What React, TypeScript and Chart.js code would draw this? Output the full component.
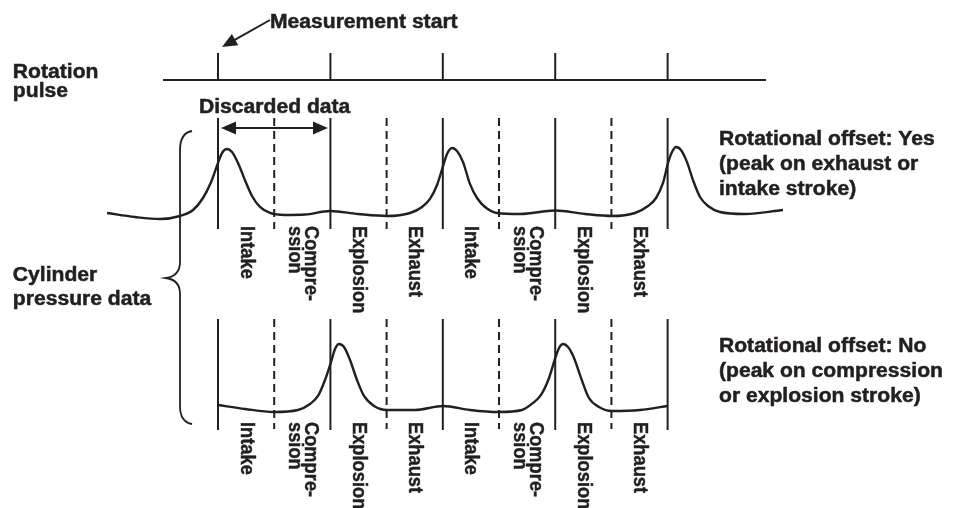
import React, { useEffect, useRef } from "react";
import { Chart, registerables } from "chart.js";

Chart.register(...registerables);

// ---- data ----
// x: crank position in strokes (0 = measurement start pulse), pressure: relative (peak = 1)
const upperAngle = [
  -1.975, -1.477, -1.032, -0.676, -0.445, -0.267, -0.125, 0, 0.071, 0.16, 0.249, 0.356, 0.48, 0.605, 0.747,
  0.925, 1.192, 1.548, 1.993, 2.491, 3.007, 3.416, 3.63, 3.772, 3.897, 4.004, 4.075, 4.164, 4.253, 4.36,
  4.484, 4.609, 4.751, 4.964, 5.374, 5.996, 6.53, 7.011, 7.42, 7.651, 7.794, 7.918, 8.007, 8.078, 8.149,
  8.238, 8.345, 8.452, 8.577, 8.719, 8.932, 9.377, 10.053,
];
const upperPressure = [
  0.03, -0.03, -0.06, -0.015, 0.075, 0.254, 0.49, 0.776, 0.925, 0.985, 0.94, 0.776, 0.52, 0.284, 0.12,
  0.03, 0, 0.007, 0.06, 0.015, -0.015, 0.03, 0.12, 0.24, 0.448, 0.73, 0.91, 1.0, 0.955, 0.79,
  0.46, 0.254, 0.12, 0.03, 0.015, 0.067, 0.015, -0.015, 0.03, 0.134, 0.254, 0.478, 0.776, 0.94, 1.015,
  0.97, 0.79, 0.52, 0.269, 0.134, 0.045, 0.015, 0.075,
];
const lowerAngle = [
  0, 0.48, 0.996, 1.423, 1.637, 1.779, 1.904, 2.011, 2.082, 2.153, 2.242, 2.349, 2.473, 2.598, 2.776,
  3.007, 3.505, 4.004, 4.484, 5.0, 5.409, 5.605, 5.747, 5.89, 5.996, 6.068, 6.139, 6.228, 6.335, 6.459,
  6.601, 6.779, 7.011, 7.509, 8.007,
];
const lowerPressure = [
  0.09, 0.03, -0.015, 0.015, 0.104, 0.224, 0.463, 0.731, 0.925, 1.0, 0.955, 0.761, 0.463, 0.224, 0.075,
  0.015, 0.015, 0.075, 0.015, -0.015, 0.015, 0.12, 0.239, 0.493, 0.776, 0.94, 1.0, 0.955, 0.79, 0.493,
  0.194, 0.06, 0, 0.015, 0.075,
];
const strokeLabels = ["Intake", "Compre-\nssion", "Explosion", "Exhaust", "Intake", "Compre-\nssion", "Explosion", "Exhaust"];
const pulseTicks = [0, 2, 4, 6, 8];
const strokeBoundaries = [1, 3, 5, 7];
const pulseSpan = [-0.979, 9.751];
const upperNote = ["Rotational offset: Yes", "(peak on exhaust or", "intake stroke)"];
const lowerNote = ["Rotational offset: No", "(peak on compression", "or explosion stroke)"];

const INK = "#231f20";
const FONT = "'Liberation Sans', Arial, sans-serif";

const diagramPlugin = {
  id: "diagram",
  afterDatasetsDraw(chart: any) {
    const ctx: CanvasRenderingContext2D = chart.ctx;
    const xs = chart.scales.x;
    const ys = chart.scales.y;
    const X = (v: number) => xs.getPixelForValue(v);
    const Y = (v: number) => ys.getPixelForValue(v);
    ctx.save();
    ctx.strokeStyle = INK;
    ctx.fillStyle = INK;
    ctx.lineCap = "butt";

    const vline = (s: number, y0: number, y1: number, dashed: boolean, w = 2) => {
      ctx.beginPath();
      ctx.lineWidth = w;
      ctx.setLineDash(dashed ? [8, 5] : []);
      ctx.moveTo(X(s), Y(y0));
      ctx.lineTo(X(s), Y(y1));
      ctx.stroke();
      ctx.setLineDash([]);
    };
    const arrowHead = (tx: number, ty: number, fx: number, fy: number, len = 14, half = 6.5) => {
      const a = Math.atan2(ty - fy, tx - fx);
      ctx.beginPath();
      ctx.moveTo(tx, ty);
      ctx.lineTo(tx - len * Math.cos(a) + half * Math.sin(a), ty - len * Math.sin(a) - half * Math.cos(a));
      ctx.lineTo(tx - len * Math.cos(a) - half * Math.sin(a), ty - len * Math.sin(a) + half * Math.cos(a));
      ctx.closePath();
      ctx.fill();
    };
    const text = (t: string, s: number, y: number) => {
      ctx.save();
      ctx.font = `bold 20px ${FONT}`;
      ctx.textAlign = "left";
      ctx.textBaseline = "alphabetic";
      ctx.translate(X(s), Y(y));
      ctx.scale(1.055, 1);
      ctx.lineWidth = 0.5;
      ctx.fillText(t, 0, 0);
      ctx.strokeText(t, 0, 0);
      ctx.restore();
    };
    const vtext = (t: string, s: number, y: number) => {
      const lines = t.split("\n");
      ctx.save();
      ctx.font = `bold 18.3px ${FONT}`;
      ctx.textAlign = "left";
      ctx.textBaseline = "middle";
      ctx.translate(X(s), Y(y));
      ctx.scale(1.11, 1);
      ctx.rotate(Math.PI / 2);
      ctx.lineWidth = 0.4;
      lines.forEach((ln, i) => {
        const oy = (i - (lines.length - 1) / 2) * 14.4;
        ctx.fillText(ln, 0, oy);
        ctx.strokeText(ln, 0, oy);
      });
      ctx.restore();
    };

    // rotation pulse
    ctx.beginPath();
    ctx.lineWidth = 2;
    ctx.moveTo(X(pulseSpan[0]), Y(80));
    ctx.lineTo(X(pulseSpan[1]), Y(80));
    ctx.stroke();
    pulseTicks.forEach((s) => vline(s, 53, 80, false));

    // stroke boundaries for both traces
    pulseTicks.forEach((s) => {
      vline(s, 118, 229, false);
      vline(s, 319, 430, false);
    });
    strokeBoundaries.forEach((s) => {
      vline(s, 118, 229, true);
      vline(s, 319, 429, true);
    });

    // stroke labels
    strokeLabels.forEach((lab, i) => {
      vtext(lab, i + 0.5, 226);
      vtext(lab, i + 0.5, 422);
    });

    // measurement start arrow
    ctx.beginPath();
    ctx.lineWidth = 2;
    const ax0 = X(0.925), ay0 = Y(20), ax1 = X(0.071), ay1 = Y(47);
    ctx.moveTo(ax0, ay0);
    ctx.lineTo(ax1 + (ax0 - ax1) * 0.2, ay1 + (ay0 - ay1) * 0.2);
    ctx.stroke();
    arrowHead(ax1, ay1, ax0, ay0, 15, 6.5);

    // discarded data double arrow
    const dy = Y(128);
    const dx0 = X(0.053), dx1 = X(1.957);
    ctx.beginPath();
    ctx.lineWidth = 2;
    ctx.moveTo(dx0 + 8, dy);
    ctx.lineTo(dx1 - 8, dy);
    ctx.stroke();
    arrowHead(dx0, dy, dx1, dy, 15, 6.5);
    arrowHead(dx1, dy, dx0, dy, 15, 6.5);

    // brace
    ctx.beginPath();
    ctx.lineWidth = 1.8;
    const bx = X(-0.676), bt = X(-0.462), bm = X(-0.925);
    ctx.moveTo(bt, Y(131));
    ctx.quadraticCurveTo(bx, Y(133), bx, Y(150));
    ctx.lineTo(bx, Y(262));
    ctx.quadraticCurveTo(bx, Y(276), bm, Y(278));
    ctx.quadraticCurveTo(bx, Y(280), bx, Y(294));
    ctx.lineTo(bx, Y(406));
    ctx.quadraticCurveTo(bx, Y(422), bt, Y(424));
    ctx.stroke();

    // texts
    text("Measurement start", 0.925, 28);
    text("Rotation", -3.65, 78);
    text("pulse", -3.65, 97);
    text("Discarded data", -0.338, 113);
    text("Cylinder", -3.65, 281);
    text("pressure data", -3.65, 305);
    upperNote.forEach((t, i) => text(t, 8.914, 145 + i * 25));
    lowerNote.forEach((t, i) => text(t, 8.914, 352 + i * 25));

    ctx.restore();
  },
};

export default function App() {
  const ref = useRef<HTMLCanvasElement | null>(null);
  useEffect(() => {
    if (!ref.current) return;
    const chart = new Chart(ref.current, {
      type: "line",
      data: {
        datasets: [
          {
            label: "Rotational offset: Yes",
            data: upperAngle.map((a, i) => ({ x: a, y: upperPressure[i] })),
            yAxisID: "yUp",
            borderColor: INK,
            borderWidth: 2.4,
            pointRadius: 0,
            cubicInterpolationMode: "monotone",
            fill: false,
          },
          {
            label: "Rotational offset: No",
            data: lowerAngle.map((a, i) => ({ x: a, y: lowerPressure[i] })),
            yAxisID: "yLo",
            borderColor: INK,
            borderWidth: 2.4,
            pointRadius: 0,
            cubicInterpolationMode: "monotone",
            fill: false,
          },
        ],
      },
      options: {
        animation: false,
        responsive: false,
        events: [],
        layout: { padding: 0 },
        plugins: { legend: { display: false }, tooltip: { enabled: false } },
        scales: {
          x: { type: "linear", min: -3.879, max: 13.149, display: false },
          y: { type: "linear", min: 0, max: 508, reverse: true, display: false },
          yUp: { type: "linear", min: -4.373, max: 3.209, display: false },
          yLo: { type: "linear", min: -1.448, max: 6.134, display: false },
        },
      },
      plugins: [diagramPlugin],
    });
    return () => chart.destroy();
  }, []);
  return (
    <div style={{ position: "fixed", left: 0, top: 0, width: 957, height: 508, background: "#fff" }}>
      <canvas ref={ref} width={957} height={508} />
    </div>
  );
}
